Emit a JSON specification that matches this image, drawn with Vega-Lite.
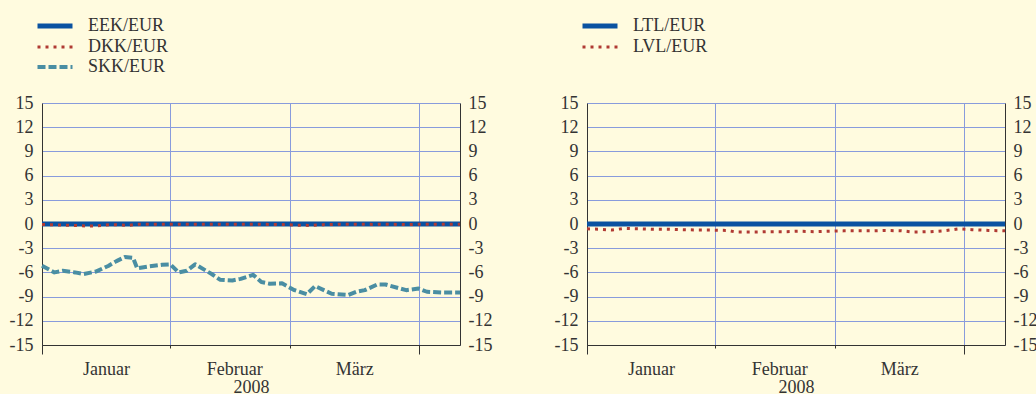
{
  "$schema": "https://vega.github.io/schema/vega-lite/v6.json",
  "background": "#FFFBDF",
  "padding": {"left": 9, "top": 17, "right": 0, "bottom": 0},
  "spacing": 62,
  "config": {
    "font": "Liberation Serif",
    "view": {"stroke": null},
    "axis": {
      "labelFont": "Liberation Serif", "labelFontSize": 18, "labelColor": "#333333",
      "titleFont": "Liberation Serif", "titleFontSize": 18, "titleFontWeight": "normal", "titleColor": "#333333",
      "domainColor": "#333333", "tickColor": "#333333", "gridColor": "#889BDC", "gridWidth": 1, "gridOpacity": 1,
      "labelFlush": false, "labelOverlap": false
    },
    "axisY": {"labelExpr": "'' + datum.value"},
    "legend": {
      "labelFont": "Liberation Serif", "labelFontSize": 18, "labelColor": "#333333",
      "orient": "none", "legendX": 4, "legendY": -86, "padding": 0,
      "symbolType": "stroke", "symbolSize": 1225, "symbolStrokeWidth": 4,
      "labelOffset": 24, "rowPadding": 2, "title": null
    }
  },
  "resolve": {"scale": {"color": "independent", "strokeDash": "independent"}},
  "hconcat": [
    {
      "width": 418, "height": 242,
      "data": {"values": [
        {"date": "2008-01-01", "series": "EEK/EUR", "value": 0},
        {"date": "2008-02-01", "series": "EEK/EUR", "value": 0},
        {"date": "2008-03-01", "series": "EEK/EUR", "value": 0},
        {"date": "2008-04-01", "series": "EEK/EUR", "value": 0},
        {"date": "2008-04-11", "series": "EEK/EUR", "value": 0},
        {"date": "2008-01-01", "series": "DKK/EUR", "value": -0.05},
        {"date": "2008-01-04", "series": "DKK/EUR", "value": -0.1},
        {"date": "2008-01-07", "series": "DKK/EUR", "value": -0.15},
        {"date": "2008-01-10", "series": "DKK/EUR", "value": -0.2},
        {"date": "2008-01-12", "series": "DKK/EUR", "value": -0.25},
        {"date": "2008-01-14", "series": "DKK/EUR", "value": -0.25},
        {"date": "2008-01-16", "series": "DKK/EUR", "value": -0.15},
        {"date": "2008-01-18", "series": "DKK/EUR", "value": -0.07},
        {"date": "2008-01-20", "series": "DKK/EUR", "value": -0.13},
        {"date": "2008-01-22", "series": "DKK/EUR", "value": -0.17},
        {"date": "2008-01-24", "series": "DKK/EUR", "value": -0.03},
        {"date": "2008-01-28", "series": "DKK/EUR", "value": -0.03},
        {"date": "2008-02-01", "series": "DKK/EUR", "value": -0.02},
        {"date": "2008-02-05", "series": "DKK/EUR", "value": -0.03},
        {"date": "2008-02-09", "series": "DKK/EUR", "value": -0.02},
        {"date": "2008-02-13", "series": "DKK/EUR", "value": -0.03},
        {"date": "2008-02-17", "series": "DKK/EUR", "value": -0.02},
        {"date": "2008-02-21", "series": "DKK/EUR", "value": -0.03},
        {"date": "2008-02-25", "series": "DKK/EUR", "value": -0.05},
        {"date": "2008-02-29", "series": "DKK/EUR", "value": -0.08},
        {"date": "2008-03-03", "series": "DKK/EUR", "value": -0.15},
        {"date": "2008-03-06", "series": "DKK/EUR", "value": -0.18},
        {"date": "2008-03-09", "series": "DKK/EUR", "value": -0.08},
        {"date": "2008-03-13", "series": "DKK/EUR", "value": -0.03},
        {"date": "2008-03-17", "series": "DKK/EUR", "value": -0.03},
        {"date": "2008-03-21", "series": "DKK/EUR", "value": -0.05},
        {"date": "2008-03-25", "series": "DKK/EUR", "value": -0.03},
        {"date": "2008-03-29", "series": "DKK/EUR", "value": -0.08},
        {"date": "2008-04-02", "series": "DKK/EUR", "value": -0.03},
        {"date": "2008-04-06", "series": "DKK/EUR", "value": -0.03},
        {"date": "2008-04-11", "series": "DKK/EUR", "value": -0.03},
        {"date": "2008-01-01", "series": "SKK/EUR", "value": -5.17},
        {"date": "2008-01-04", "series": "SKK/EUR", "value": -6.0},
        {"date": "2008-01-06", "series": "SKK/EUR", "value": -5.8},
        {"date": "2008-01-09", "series": "SKK/EUR", "value": -6.0},
        {"date": "2008-01-11", "series": "SKK/EUR", "value": -6.2},
        {"date": "2008-01-14", "series": "SKK/EUR", "value": -5.9},
        {"date": "2008-01-17", "series": "SKK/EUR", "value": -5.2},
        {"date": "2008-01-19", "series": "SKK/EUR", "value": -4.6},
        {"date": "2008-01-21", "series": "SKK/EUR", "value": -4.1},
        {"date": "2008-01-23", "series": "SKK/EUR", "value": -4.2},
        {"date": "2008-01-24", "series": "SKK/EUR", "value": -5.5},
        {"date": "2008-01-27", "series": "SKK/EUR", "value": -5.25},
        {"date": "2008-01-30", "series": "SKK/EUR", "value": -5.05},
        {"date": "2008-02-01", "series": "SKK/EUR", "value": -5.0},
        {"date": "2008-02-03", "series": "SKK/EUR", "value": -6.0},
        {"date": "2008-02-05", "series": "SKK/EUR", "value": -5.8},
        {"date": "2008-02-07", "series": "SKK/EUR", "value": -5.0},
        {"date": "2008-02-11", "series": "SKK/EUR", "value": -6.2},
        {"date": "2008-02-13", "series": "SKK/EUR", "value": -6.9},
        {"date": "2008-02-16", "series": "SKK/EUR", "value": -7.0},
        {"date": "2008-02-18", "series": "SKK/EUR", "value": -6.8},
        {"date": "2008-02-21", "series": "SKK/EUR", "value": -6.3},
        {"date": "2008-02-23", "series": "SKK/EUR", "value": -7.2},
        {"date": "2008-02-25", "series": "SKK/EUR", "value": -7.4},
        {"date": "2008-02-28", "series": "SKK/EUR", "value": -7.35},
        {"date": "2008-03-02", "series": "SKK/EUR", "value": -8.2},
        {"date": "2008-03-05", "series": "SKK/EUR", "value": -8.7},
        {"date": "2008-03-07", "series": "SKK/EUR", "value": -7.7},
        {"date": "2008-03-11", "series": "SKK/EUR", "value": -8.65},
        {"date": "2008-03-15", "series": "SKK/EUR", "value": -8.8},
        {"date": "2008-03-17", "series": "SKK/EUR", "value": -8.4},
        {"date": "2008-03-19", "series": "SKK/EUR", "value": -8.2},
        {"date": "2008-03-22", "series": "SKK/EUR", "value": -7.5},
        {"date": "2008-03-24", "series": "SKK/EUR", "value": -7.5},
        {"date": "2008-03-29", "series": "SKK/EUR", "value": -8.2},
        {"date": "2008-04-01", "series": "SKK/EUR", "value": -8.0},
        {"date": "2008-04-03", "series": "SKK/EUR", "value": -8.4},
        {"date": "2008-04-07", "series": "SKK/EUR", "value": -8.5},
        {"date": "2008-04-11", "series": "SKK/EUR", "value": -8.5}
      ]},
      "resolve": {"axis": {"x": "independent", "y": "independent"}},
      "layer": [
        {
          "mark": {"type": "line", "strokeCap": "butt", "strokeJoin": "round"},
          "encoding": {
            "x": {"field": "date", "type": "temporal",
              "scale": {"type": "utc", "domain": [{"year": 2008, "month": 1, "date": 1, "utc": true}, {"year": 2008, "month": 4, "date": 11, "utc": true}]},
              "axis": {"orient": "bottom", "grid": true, "tickSize": 3, "labelPadding": 12, "labelOffset": 64,
                "values": [{"year": 2008, "month": 1, "date": 1, "utc": true}, {"year": 2008, "month": 2, "date": 1, "utc": true}, {"year": 2008, "month": 3, "date": 1, "utc": true}, {"year": 2008, "month": 4, "date": 1, "utc": true}],
                "labelExpr": "utcmonth(datum.value)==0?'Januar':utcmonth(datum.value)==1?'Februar':utcmonth(datum.value)==2?'März':''",
                "title": "2008", "titlePadding": 0}},
            "y": {"field": "value", "type": "quantitative", "scale": {"domain": [-15, 15], "nice": false},
              "axis": {"orient": "left", "grid": true, "ticks": false, "tickSize": 0, "labelPadding": 9, "title": null,
                "values": [-15, -12, -9, -6, -3, 0, 3, 6, 9, 12, 15]}},
            "color": {"field": "series", "type": "nominal",
              "scale": {"domain": ["EEK/EUR", "DKK/EUR", "SKK/EUR"], "range": ["#0A52A1", "#B03A33", "#4A8EA3"]},
              "legend": {"encode": {"symbols": {"update": {"strokeWidth": {"signal": "datum.value==='EEK/EUR'?5:datum.value==='SKK/EUR'?4:3"}}}}}},
            "strokeDash": {"field": "series", "type": "nominal",
              "scale": {"domain": ["EEK/EUR", "DKK/EUR", "SKK/EUR"], "range": [[1, 0], [3, 5], [8, 3]]}},
            "strokeWidth": {"condition": [{"test": "datum.series==='EEK/EUR'", "value": 5}, {"test": "datum.series==='SKK/EUR'", "value": 4}], "value": 3}
          }
        },
        {
          "mark": {"type": "point", "opacity": 0},
          "encoding": {
            "x": {"field": "date", "type": "temporal",
              "axis": {"orient": "bottom", "grid": false, "labels": false, "domain": false, "tickSize": 9, "title": null,
                "values": [{"year": 2008, "month": 1, "date": 1, "utc": true}, {"year": 2008, "month": 4, "date": 1, "utc": true}]}},
            "y": {"field": "value", "type": "quantitative",
              "axis": {"orient": "right", "grid": false, "ticks": false, "tickSize": 0, "labelPadding": 8, "title": null,
                "values": [-15, -12, -9, -6, -3, 0, 3, 6, 9, 12, 15]}}
          }
        }
      ]
    },
    {
      "width": 418, "height": 242,
      "data": {"values": [
        {"date": "2008-01-01", "series": "LTL/EUR", "value": 0},
        {"date": "2008-02-01", "series": "LTL/EUR", "value": 0},
        {"date": "2008-03-01", "series": "LTL/EUR", "value": 0},
        {"date": "2008-04-01", "series": "LTL/EUR", "value": 0},
        {"date": "2008-04-11", "series": "LTL/EUR", "value": 0},
        {"date": "2008-01-01", "series": "LVL/EUR", "value": -0.6},
        {"date": "2008-01-04", "series": "LVL/EUR", "value": -0.65},
        {"date": "2008-01-07", "series": "LVL/EUR", "value": -0.75},
        {"date": "2008-01-10", "series": "LVL/EUR", "value": -0.55},
        {"date": "2008-01-14", "series": "LVL/EUR", "value": -0.6},
        {"date": "2008-01-17", "series": "LVL/EUR", "value": -0.65},
        {"date": "2008-01-21", "series": "LVL/EUR", "value": -0.65},
        {"date": "2008-01-24", "series": "LVL/EUR", "value": -0.7},
        {"date": "2008-01-28", "series": "LVL/EUR", "value": -0.75},
        {"date": "2008-01-31", "series": "LVL/EUR", "value": -0.75},
        {"date": "2008-02-04", "series": "LVL/EUR", "value": -0.8},
        {"date": "2008-02-06", "series": "LVL/EUR", "value": -1.0},
        {"date": "2008-02-11", "series": "LVL/EUR", "value": -1.0},
        {"date": "2008-02-14", "series": "LVL/EUR", "value": -0.95},
        {"date": "2008-02-18", "series": "LVL/EUR", "value": -0.95},
        {"date": "2008-02-21", "series": "LVL/EUR", "value": -0.9},
        {"date": "2008-02-25", "series": "LVL/EUR", "value": -0.95},
        {"date": "2008-02-28", "series": "LVL/EUR", "value": -0.9},
        {"date": "2008-03-03", "series": "LVL/EUR", "value": -0.85},
        {"date": "2008-03-06", "series": "LVL/EUR", "value": -0.85},
        {"date": "2008-03-10", "series": "LVL/EUR", "value": -0.85},
        {"date": "2008-03-13", "series": "LVL/EUR", "value": -0.8},
        {"date": "2008-03-17", "series": "LVL/EUR", "value": -0.85},
        {"date": "2008-03-20", "series": "LVL/EUR", "value": -1.0},
        {"date": "2008-03-24", "series": "LVL/EUR", "value": -0.95},
        {"date": "2008-03-27", "series": "LVL/EUR", "value": -0.85},
        {"date": "2008-03-31", "series": "LVL/EUR", "value": -0.6},
        {"date": "2008-04-03", "series": "LVL/EUR", "value": -0.7},
        {"date": "2008-04-07", "series": "LVL/EUR", "value": -0.8},
        {"date": "2008-04-11", "series": "LVL/EUR", "value": -0.85}
      ]},
      "resolve": {"axis": {"x": "independent", "y": "independent"}},
      "layer": [
        {
          "mark": {"type": "line", "strokeCap": "butt", "strokeJoin": "round"},
          "encoding": {
            "x": {"field": "date", "type": "temporal",
              "scale": {"type": "utc", "domain": [{"year": 2008, "month": 1, "date": 1, "utc": true}, {"year": 2008, "month": 4, "date": 11, "utc": true}]},
              "axis": {"orient": "bottom", "grid": true, "tickSize": 3, "labelPadding": 12, "labelOffset": 64,
                "values": [{"year": 2008, "month": 1, "date": 1, "utc": true}, {"year": 2008, "month": 2, "date": 1, "utc": true}, {"year": 2008, "month": 3, "date": 1, "utc": true}, {"year": 2008, "month": 4, "date": 1, "utc": true}],
                "labelExpr": "utcmonth(datum.value)==0?'Januar':utcmonth(datum.value)==1?'Februar':utcmonth(datum.value)==2?'März':''",
                "title": "2008", "titlePadding": 0}},
            "y": {"field": "value", "type": "quantitative", "scale": {"domain": [-15, 15], "nice": false},
              "axis": {"orient": "left", "grid": true, "ticks": false, "tickSize": 0, "labelPadding": 9, "title": null,
                "values": [-15, -12, -9, -6, -3, 0, 3, 6, 9, 12, 15]}},
            "color": {"field": "series", "type": "nominal",
              "scale": {"domain": ["LTL/EUR", "LVL/EUR"], "range": ["#0A52A1", "#B03A33"]},
              "legend": {"encode": {"symbols": {"update": {"strokeWidth": {"signal": "datum.value==='LTL/EUR'?5:3"}}}}}},
            "strokeDash": {"field": "series", "type": "nominal",
              "scale": {"domain": ["LTL/EUR", "LVL/EUR"], "range": [[1, 0], [3, 5]]}},
            "strokeWidth": {"condition": [{"test": "datum.series==='LTL/EUR'", "value": 5}], "value": 3}
          }
        },
        {
          "mark": {"type": "point", "opacity": 0},
          "encoding": {
            "x": {"field": "date", "type": "temporal",
              "axis": {"orient": "bottom", "grid": false, "labels": false, "domain": false, "tickSize": 9, "title": null,
                "values": [{"year": 2008, "month": 1, "date": 1, "utc": true}, {"year": 2008, "month": 4, "date": 1, "utc": true}]}},
            "y": {"field": "value", "type": "quantitative",
              "axis": {"orient": "right", "grid": false, "ticks": false, "tickSize": 0, "labelPadding": 8, "title": null,
                "values": [-15, -12, -9, -6, -3, 0, 3, 6, 9, 12, 15]}}
          }
        }
      ]
    }
  ]
}
